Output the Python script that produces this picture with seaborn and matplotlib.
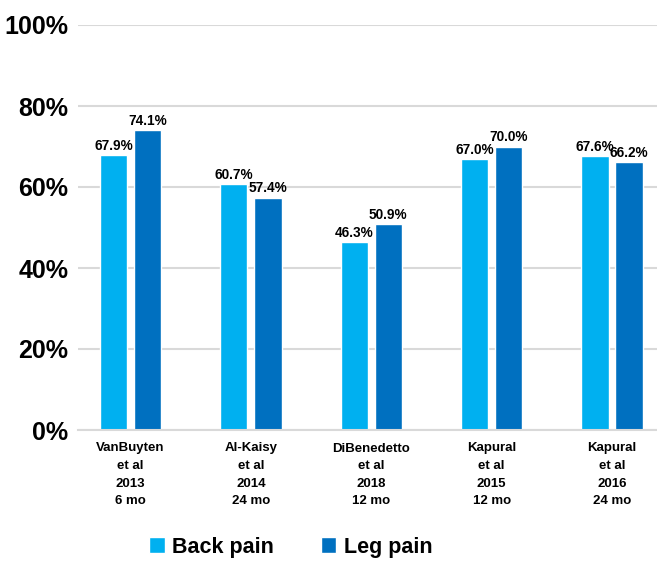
import pandas as pd
import matplotlib.pyplot as plt
import seaborn as sns

# chart values
studies = ["VanBuyten\net al\n2013\n6 mo", "Al-Kaisy\net al\n2014\n24 mo",
           "DiBenedetto\net al\n2018\n12 mo", "Kapural\net al\n2015\n12 mo",
           "Kapural\net al\n2016\n24 mo"]
back_pain = [67.9, 60.7, 46.3, 67.0, 67.6]
leg_pain = [74.1, 57.4, 50.9, 70.0, 66.2]
series_names = ["Back pain", "Leg pain"]
colors = ["#00B0F0", "#0070C0"]
y_ticks = [0, 20, 40, 60, 80, 100]

df = pd.DataFrame({
    "study": studies * 2,
    "series": [series_names[0]] * len(studies) + [series_names[1]] * len(studies),
    "value": back_pain + leg_pain,
})

sns.set_theme(style="white")
plt.rcParams['font.family'] = ['Liberation Sans', 'DejaVu Sans']
plt.rcParams['text.color'] = 'black'
plt.rcParams['xtick.color'] = 'black'
plt.rcParams['ytick.color'] = 'black'

fig = plt.figure(figsize=(6.57, 5.61), dpi=100)
ax = fig.add_axes([78 / 657, 131 / 561, 579 / 657, 405 / 561])

sns.barplot(data=df, x="study", y="value", hue="series", palette=colors,
            width=0.565, gap=0.2, ax=ax, saturation=1)

for cont in ax.containers:
    ax.bar_label(cont, fmt='%.1f%%', padding=1.5, fontsize=9.8,
                 fontweight='bold', color='black')

ax.set_ylim(0, 100)
ax.set_xlim(-0.436, 4.373)
ax.set_yticks(y_ticks)
ax.set_yticklabels([f"{t}%" for t in y_ticks], fontsize=18, fontweight='bold')
ax.tick_params(axis='y', length=0, pad=7, colors='black')
ax.tick_params(axis='x', length=0, pad=9, colors='black')
for lbl in ax.get_xticklabels():
    lbl.set_fontweight('bold')
    lbl.set_fontsize(9.5)
    lbl.set_linespacing(1.62)
ax.set_xlabel("")
ax.set_ylabel("")
ax.yaxis.grid(True, color="#D9D9D9", lw=1.5)
ax.set_axisbelow(True)
for s in ["top", "right", "left"]:
    ax.spines[s].set_visible(False)
ax.spines["bottom"].set_color("#D9D9D9")
ax.spines["bottom"].set_linewidth(1.5)

handles, labels = ax.get_legend_handles_labels()
ax.legend_.remove()
fig.legend(handles, labels, loc="center", bbox_to_anchor=(291 / 657, 14 / 561),
           ncol=2, frameon=False, handlelength=0.7, handleheight=0.7,
           columnspacing=2.2, handletextpad=0.35,
           prop={'weight': 'bold', 'size': 15.5})

plt.savefig("out.png", dpi=100)
